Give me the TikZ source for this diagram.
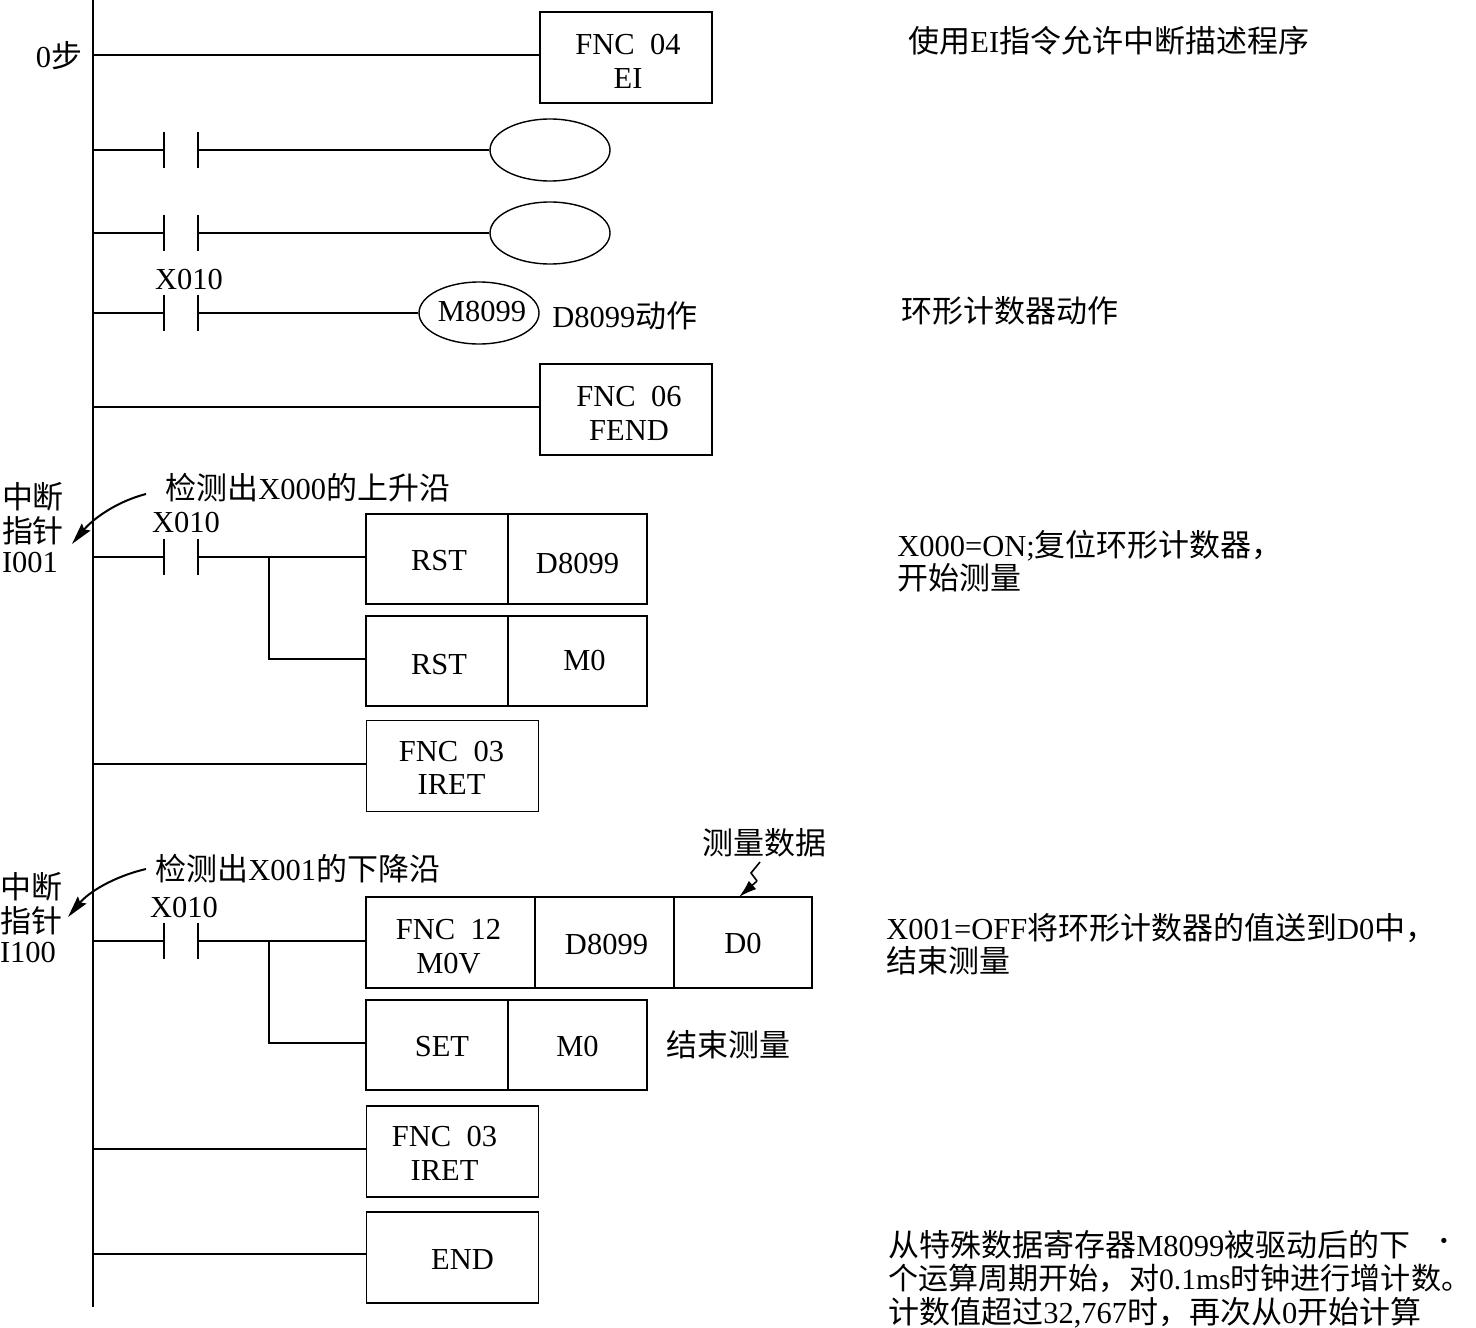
\documentclass[tikz,border=0pt]{standalone}
\usepackage{fontspec}
\setmainfont{Liberation Serif}
\newfontfamily\cjk[Scale=1.016]{Noto Sans CJK SC}
\newcommand{\zh}[1]{{\cjk #1}}
\newcommand{\bodysize}{\fontsize{15.25}{16.7}\selectfont}
\usetikzlibrary{positioning,arrows.meta,shapes.geometric}
\tikzset{
  ladder/.style={line width=0.8pt},
  txt/.style={font=\bodysize,inner sep=0pt,align=left},
  note/.style={txt,anchor=west},
  every label/.style={font=\bodysize,align=center},
  cell/.style 2 args={draw,line width=0.7pt,inner sep=0pt,outer sep=0pt,minimum width=#1,minimum height=#2},
  fnc/.style={cell={86pt}{45.5pt}},
  opbox/.style={cell={71pt}{45pt}},
  argbox/.style={cell={69.5pt}{45pt}},
  coil/.style={ellipse,draw,line width=0.7pt,inner sep=0pt,minimum width=60pt,minimum height=31pt},
  contact/.style={inner sep=0pt,minimum width=16.5pt,minimum height=18pt,
    append after command={
      (\tikzlastnode.north west) edge[ladder] (\tikzlastnode.south west)
      (\tikzlastnode.north east) edge[ladder] (\tikzlastnode.south east)}},
  pointer/.style={line width=1pt,-{Stealth[length=11pt,width=5.5pt,inset=1.5pt]}}
}
\begin{document}
\begin{tikzpicture}[x=0.5pt,y=-0.5pt]
\useasboundingbox (0,0) rectangle (1476,1327);

% power rail
\coordinate (railtop) at (93,0);
\coordinate (railbot) at (93,1307);
\foreach \name/\ypos in {a/55,b/150,c/233,d/313,e/407,f/557,g/764,h/941,i/1149,j/1254}
  \coordinate (rail\name) at (93,\ypos);
\draw[ladder] (railtop) -- (railbot);

% main program
\node[fnc,label={[shift={(2,4)}]center:FNC\ \ 04\\EI}] (fncEI) at (626,57.5) {};
\node[contact] (conB) at (181,150) {};
\node[coil] (coilB) at (550,150) {};
\node[contact] (conC) at (181,233) {};
\node[coil] (coilC) at (550,233) {};
\node[contact] (conD) at (181,313) {};
\node[coil] (coilD) at (479,313) {};
\node[txt] (txtD) at (482,312) {M8099};
\node[fnc,label={[shift={(3,4)}]center:FNC\ \ 06\\FEND}] (fncFEND) at (626,409.5) {};

% first interrupt
\node[contact] (conF) at (181,557) {};
\node[opbox,label={[shift={(2,2)}]center:RST}] (rstA) at (437,559) {};
\node[argbox,right=0pt of rstA,label={[shift={(0,4)}]center:D8099}] (dataA) {};
\node[opbox,label={[shift={(2,4)}]center:RST}] (rstB) at (437,661) {};
\node[argbox,right=0pt of rstB,label={[shift={(7,-1)}]center:M0}] (dataB) {};
\node[fnc,label={[shift={(-1,2)}]center:FNC\ \ 03\\IRET}] (iretA) at (452.5,766) {};
\coordinate (tapF) at (269,557);
\coordinate (stubF) at (366,659);

% second interrupt
\node[contact] (conH) at (181,941) {};
\node[cell={84.5pt}{45.5pt},label={[shift={(-2,4)}]center:FNC\ \ 12\\M0V}] (movA) at (450.5,942.5) {};
\node[cell={69.5pt}{45.5pt},right=0pt of movA,label={[shift={(2,2)}]center:D8099}] (movB) {};
\node[cell={69pt}{45.5pt},right=0pt of movB,label={[shift={(0,1)}]center:D0}] (movC) {};
\node[opbox,label={[shift={(5,2)}]center:SET}] (setA) at (437,1045) {};
\node[argbox,right=0pt of setA,label={[shift={(0,1)}]center:M0}] (setB) {};
\node[fnc,label={[shift={(-8,2)}]center:FNC\ \ 03\\IRET}] (iretB) at (452.5,1151.5) {};
\node[fnc,label={[shift={(10,2)}]center:END}] (endbox) at (452.5,1257.5) {};
\coordinate (tapH) at (269,941);
\coordinate (stubH) at (366,1043);

% rungs
\draw[ladder] (raila) -- (raila -| fncEI.west);
\foreach \r/\R in {b/B,c/C,d/D} {
  \draw[ladder] (rail\r) -- (con\R.west);
  \draw[ladder] (con\R.east) -- (coil\R.west);
}
\draw[ladder] (raile) -- (raile -| fncFEND.west);
\draw[ladder] (railf) -- (conF.west);
\draw[ladder] (conF.east) -- (conF.east -| rstA.west);
\draw[ladder] (tapF) |- (stubF);
\draw[ladder] (railg) -- (railg -| iretA.west);
\draw[ladder] (railh) -- (conH.west);
\draw[ladder] (conH.east) -- (conH.east -| movA.west);
\draw[ladder] (tapH) |- (stubH);
\draw[ladder] (raili) -- (raili -| iretB.west);
\draw[ladder] (railj) -- (railj -| endbox.west);

% labels on the ladder
\node[txt] (stepzero) at (59,56) {0\zh{步}};
\node[txt] (xD) at (189,280) {X010};
\node[txt] (xF) at (186,523) {X010};
\node[txt] (xH) at (184,907) {X010};
\node[note] (actD) at (552,316) {D8099\zh{动作}};
\node[note] (edgeF) at (165,488) {\zh{检测出}X000\zh{的上升沿}};
\node[note] (edgeH) at (155,869) {\zh{检测出}X001\zh{的下降沿}};
\node[txt] (ptrF) at (33,527.5) {\zh{中断}\\\zh{指针}\\[-1.7pt]I001};
\node[txt] (ptrH) at (31,917.5) {\zh{中断}\\\zh{指针}\\[-1.7pt]I100};
\node[note] (endmeas) at (666,1045) {\zh{结束测量}};
\node[txt] (meas) at (764,843) {\zh{测量数据}};

% pointers
\coordinate (startF) at (146,494);
\coordinate (tipF) at (72,544);
\coordinate (startH) at (146,869);
\coordinate (tipH) at (68,917);
\draw[pointer] (startF) .. controls (115,502) and (92,520) .. (tipF);
\draw[pointer] (startH) .. controls (112,877) and (88,893) .. (tipH);
\coordinate (zigA) at (760,862);
\coordinate (zigB) at (751,873);
\coordinate (zigC) at (757,881);
\draw[line width=0.8pt] (zigA) -- (zigB) -- (zigC);
\draw[line width=0.8pt,-{Latex[length=9pt,width=5.5pt]}] (zigC) -- ([xshift=-2pt]movC.north);

% notes on the right
\node[note] (noteA) at (908,41) {\zh{使用}EI\zh{指令允许中断描述程序}};
\node[note] (noteB) at (901,311) {\zh{环形计数器动作}};
\node[note] (noteC) at (897,561) {X000=ON;\zh{复位环形计数器，}\\\zh{开始测量}};
\node[note] (noteD) at (886,944) {X001=OFF\zh{将环形计数器的值送到}D0\zh{中，}\\\zh{结束测量}};
\node[note] (noteE) at (888,1279) {\zh{从特殊数据寄存器}M8099\zh{被驱动后的下}\\
  {\fontsize{14.8}{16.7}\selectfont\zh{个运算周期开始，对}0.1ms\zh{时钟进行增计数。}}\\
  \zh{计数值超过}32,767\zh{时，再次从}0\zh{开始计算}};
\node[txt,font=\fontsize{16}{16}\selectfont\bfseries] (speck) at (1444,1245) {·};
\end{tikzpicture}
\end{document}
